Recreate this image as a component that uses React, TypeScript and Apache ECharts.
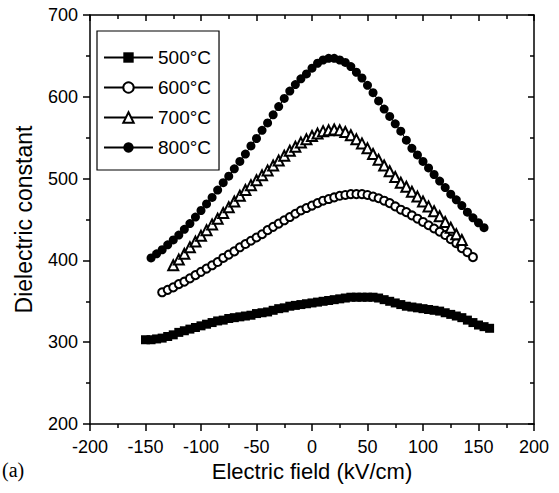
import React, { useEffect, useRef } from "react";
import * as echarts from "echarts";

// Electric field (kV/cm) sample positions shared by all series
const fieldKV = [
  -150, -145, -140, -135, -130, -125, -120, -115, -110, -105,
  -100, -95, -90, -85, -80, -75, -70, -65, -60, -55,
  -50, -45, -40, -35, -30, -25, -20, -15, -10, -5,
  0, 5, 10, 15, 20, 25, 30, 35, 40, 45,
  50, 55, 60, 65, 70, 75, 80, 85, 90, 95,
  100, 105, 110, 115, 120, 125, 130, 135, 140, 145,
  150, 155, 160,
];

const eps500 = [
  303, 303, 304, 305, 307, 309, 312, 314, 316, 318,
  320, 322, 324, 326, 327, 329, 330, 331, 332, 333,
  335, 336, 337, 339, 341, 342, 344, 345, 346, 347,
  348, 349, 350, 351, 352, 353, 354, 355, 355, 355,
  355, 355, 354, 352, 350, 348, 346, 344, 343, 342,
  341, 340, 339, 338, 336, 334, 332, 330, 327, 324,
  321, 319, 317,
];

const eps600 = [
  null, null, null, 361, 364, 367, 371, 374, 378, 382,
  386, 390, 394, 398, 403, 407, 411, 416, 420, 424,
  428, 432, 437, 441, 445, 449, 453, 457, 461, 464,
  467, 470, 473, 475, 477, 479, 480, 481, 481, 481,
  480, 478, 476, 473, 470, 466, 462, 459, 455, 451,
  447, 443, 439, 435, 431, 426, 421, 415, 410, 404,
  null, null, null,
];

const eps700 = [
  null, null, null, null, null, 394, 401, 408, 416, 423,
  430, 437, 444, 451, 458, 465, 472, 479, 486, 492,
  498, 504, 510, 516, 522, 528, 534, 539, 544, 548,
  552, 555, 558, 559, 560, 559, 557, 553, 548, 543,
  537, 530, 523, 516, 509, 502, 495, 490, 484, 478,
  472, 466, 460, 454, 447, 440, 432, 425, null, null,
  null, null, null,
];

const eps800 = [
  null, 403, 408, 413, 419, 425, 431, 438, 445, 453,
  461, 469, 477, 486, 495, 503, 512, 521, 530, 540,
  549, 559, 568, 578, 588, 598, 607, 615, 622, 628,
  635, 641, 645, 647, 647, 645, 642, 637, 630, 623,
  614, 605, 595, 585, 576, 567, 558, 547, 537, 529,
  521, 513, 505, 497, 489, 481, 474, 467, 459, 452,
  446, 440, null,
];

const seriesNames = ["500°C", "600°C", "700°C", "800°C"];
const xTicks = { min: -200, max: 200, interval: 50 };
const yTicks = { min: 200, max: 700, interval: 100 };

const FONT = '"Liberation Sans", Arial, Helvetica, sans-serif';

function pairs(vals: (number | null)[]) {
  const out: [number, number][] = [];
  vals.forEach((v, i) => {
    if (v !== null) out.push([fieldKV[i], v]);
  });
  return out;
}

export default function App() {
  const ref = useRef<HTMLDivElement>(null);
  useEffect(() => {
    if (!ref.current) return;
    const chart = echarts.init(ref.current, null, { renderer: "svg" });
    const axisLine = { show: true, onZero: false, lineStyle: { color: "#000", width: 1.5 } };
    const tickStyle = { color: "#000", width: 1.5 };
    const common = {
      type: "value" as const,
      splitLine: { show: false },
      axisLine,
    };
    const lineStyle = { color: "#000", width: 1 };
    chart.setOption({
      animation: false,
      backgroundColor: "#fff",
      grid: { left: 90, right: 25, top: 15, bottom: 69 },
      legend: {
        orient: "vertical",
        left: 97,
        top: 31,
        data: seriesNames,
        borderColor: "#000",
        borderWidth: 1.2,
        padding: [17, 8, 13, 6],
        itemGap: 11,
        itemWidth: 49,
        itemHeight: 13,
        textStyle: { color: "#000", fontSize: 19, fontFamily: FONT },
      },
      xAxis: [
        {
          ...common,
          position: "bottom",
          ...xTicks,
          axisTick: { show: true, inside: false, length: 7, lineStyle: tickStyle },
          minorTick: { show: true, splitNumber: 2, length: 4, lineStyle: tickStyle },
          axisLabel: { color: "#000", fontSize: 18, fontFamily: FONT, margin: 14 },
          name: "Electric field (kV/cm)",
          nameLocation: "middle",
          nameGap: 36,
          nameTextStyle: { color: "#000", fontSize: 22, fontFamily: FONT },
        },
        {
          ...common,
          position: "top",
          ...xTicks,
          axisTick: { show: true, inside: true, length: 6, lineStyle: tickStyle },
          minorTick: { show: true, splitNumber: 2, length: 4, lineStyle: tickStyle },
          axisLabel: { show: false },
        },
      ],
      yAxis: [
        {
          ...common,
          position: "left",
          ...yTicks,
          axisTick: { show: true, inside: false, length: 7, lineStyle: tickStyle },
          minorTick: { show: true, splitNumber: 2, length: 4, lineStyle: tickStyle },
          axisLabel: { color: "#000", fontSize: 18, fontFamily: FONT, margin: 12 },
          name: "Dielectric constant",
          nameLocation: "middle",
          nameGap: 55,
          nameTextStyle: { color: "#000", fontSize: 23, fontFamily: FONT },
        },
        {
          ...common,
          position: "right",
          ...yTicks,
          axisTick: { show: true, inside: true, length: 6, lineStyle: tickStyle },
          minorTick: { show: true, splitNumber: 2, length: 4, lineStyle: tickStyle },
          axisLabel: { show: false },
        },
      ],
      graphic: [
        {
          type: "text",
          left: 2,
          top: 460,
          style: { text: "(a)", font: '20px "Liberation Serif", "Times New Roman", serif', fill: "#000" },
        },
      ],
      series: [
        {
          name: seriesNames[0],
          type: "line",
          data: pairs(eps500),
          symbol: "rect",
          symbolSize: 9,
          itemStyle: { color: "#000" },
          lineStyle,
        },
        {
          name: seriesNames[1],
          type: "line",
          data: pairs(eps600),
          symbol: "emptyCircle",
          symbolSize: 8,
          itemStyle: { color: "#000", borderColor: "#000", borderWidth: 1 },
          lineStyle,
        },
        {
          name: seriesNames[2],
          type: "line",
          data: pairs(eps700),
          symbol: "emptyTriangle",
          symbolSize: 10,
          itemStyle: { color: "#000", borderColor: "#000", borderWidth: 1 },
          lineStyle,
        },
        {
          name: seriesNames[3],
          type: "line",
          data: pairs(eps800),
          symbol: "circle",
          symbolSize: 9,
          itemStyle: { color: "#000" },
          lineStyle,
        },
      ],
    });
    return () => chart.dispose();
  }, []);
  return (
    <div
      ref={ref}
      style={{ position: "absolute", left: 0, top: 0, width: 559, height: 493 }}
    />
  );
}
